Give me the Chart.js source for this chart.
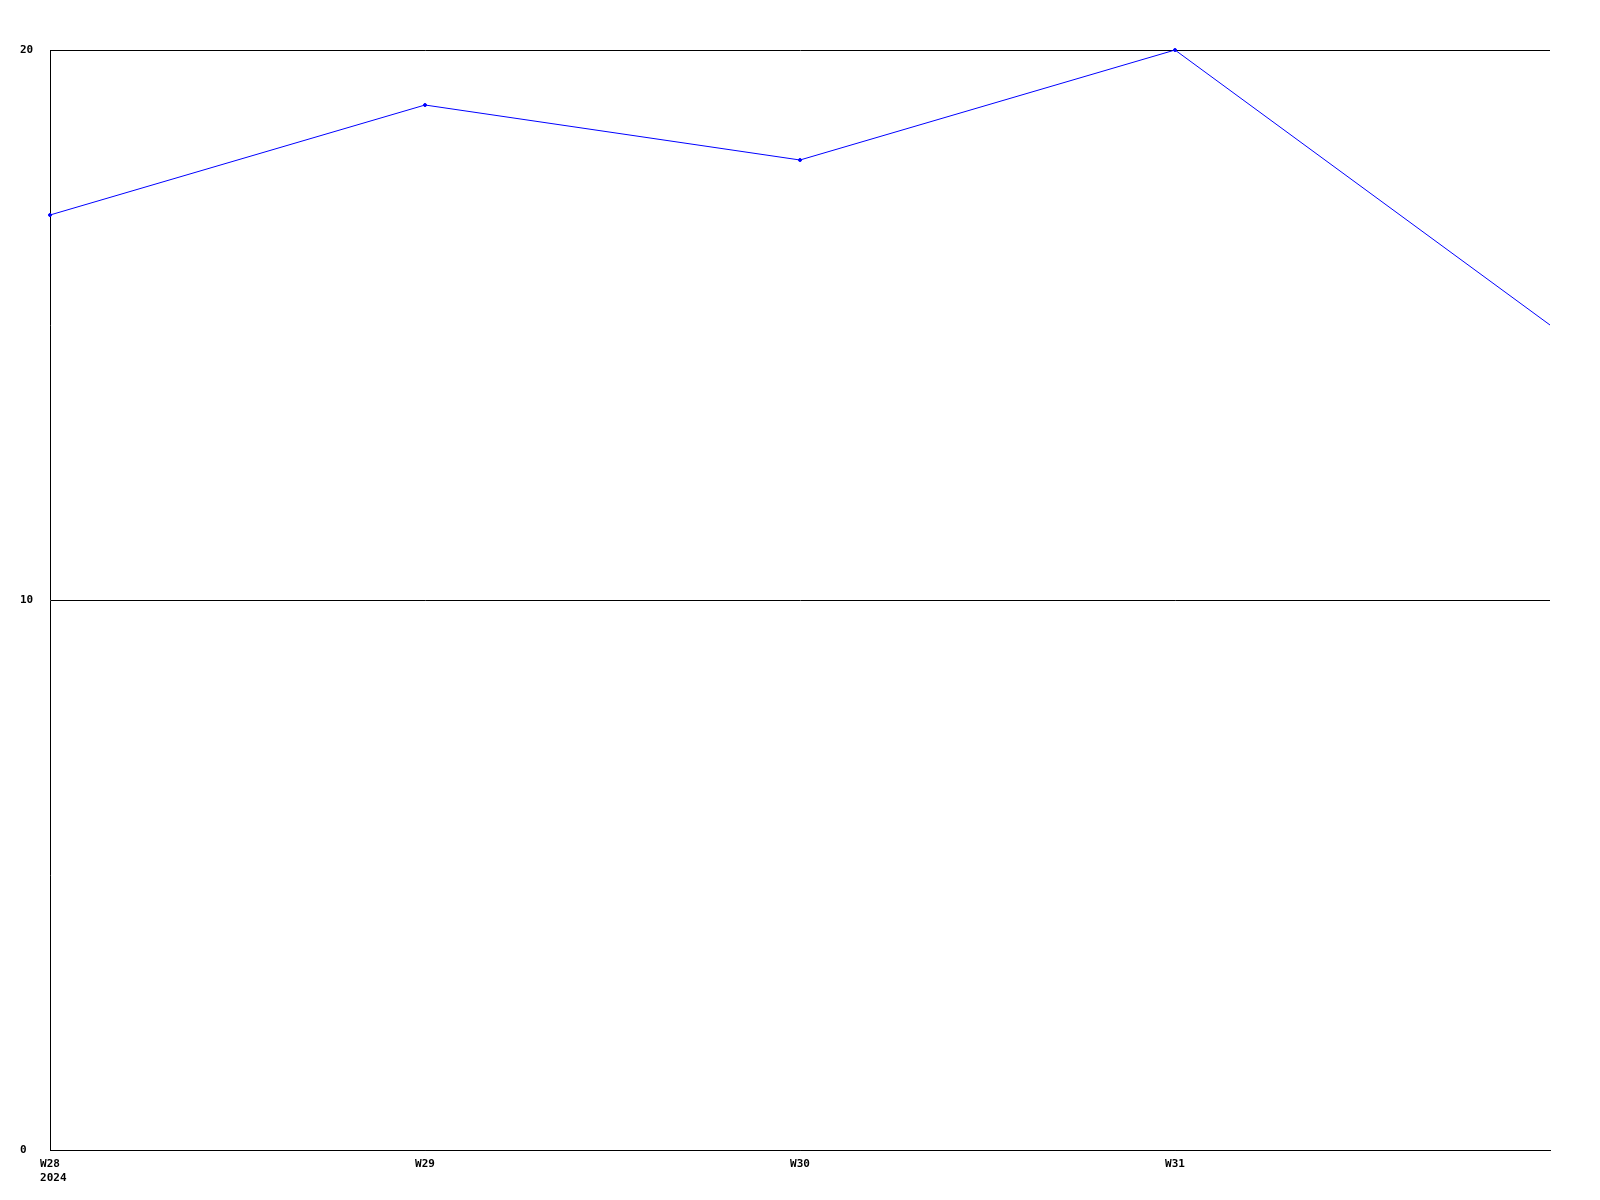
<!DOCTYPE html>
<html>
<head>
<meta charset="utf-8">
<script src="https://cdn.jsdelivr.net/npm/chart.js@4"></script>
<style>
    body { margin: 0; background: #fff; }
    #wrap { width: 1600px; height: 1200px; }
</style>
</head>
<body>
<div id="wrap"><canvas id="weekly_chart" width="1600" height="1200"></canvas></div>
<script>
// weeks on the x axis, last one sits on the right edge without a label
const weeks = ['W28', 'W29', 'W30', 'W31', 'W32'];
const year = '2024';
const values = [17, 19, 18, 20, 15];

const tickFont = {
    family: '"DejaVu Sans Mono", "Liberation Mono", monospace',
    size: 11,
    weight: 'bold',
    lineHeight: 1.3
}

const chart = new Chart(
    document.getElementById('weekly_chart'),
    {
        type: 'line',
        data: {
            labels: weeks,
            datasets: [{
                data: values,
                borderColor: '#0000ff',
                backgroundColor: '#0000ff',
                borderWidth: 1,
                // no marker on the point at the right edge
                pointRadius: values.map((v, i) => i === values.length - 1 ? 0 : 1.5),
                pointHoverRadius: 1.5,
                tension: 0,
                clip: false
            }]
        },
        options: {
            responsive: false,
            animation: false,
            plugins: {
                legend: { display: false },
                tooltip: { enabled: false }
            },
            layout: {
                padding: { top: 50, right: 50, left: 20, bottom: 0 }
            },
            scales: {
                x: {
                    offset: false,
                    grid: { display: false, drawTicks: false },
                    border: { display: true, color: '#000', width: 1 },
                    ticks: {
                        color: '#000',
                        font: tickFont,
                        padding: 7,
                        maxRotation: 0,
                        autoSkip: false,
                        callback: (val, i) => {
                            // year line starts under the week label
                            if (i === 0) return [weeks[i], ' ' + year];
                            if (i === weeks.length - 1) return '';
                            return weeks[i];
                        }
                    },
                    afterFit: (scale) => { scale.height = 50; }
                },
                y: {
                    min: 0,
                    max: 20,
                    grid: { color: '#000', lineWidth: 1, drawTicks: false },
                    border: { display: true, color: '#000', width: 1 },
                    ticks: {
                        color: '#000',
                        font: tickFont,
                        stepSize: 10,
                        crossAlign: 'far'
                    },
                    afterFit: (scale) => { scale.width = 30; }
                }
            }
        }
    }
);
</script>
</body>
</html>
